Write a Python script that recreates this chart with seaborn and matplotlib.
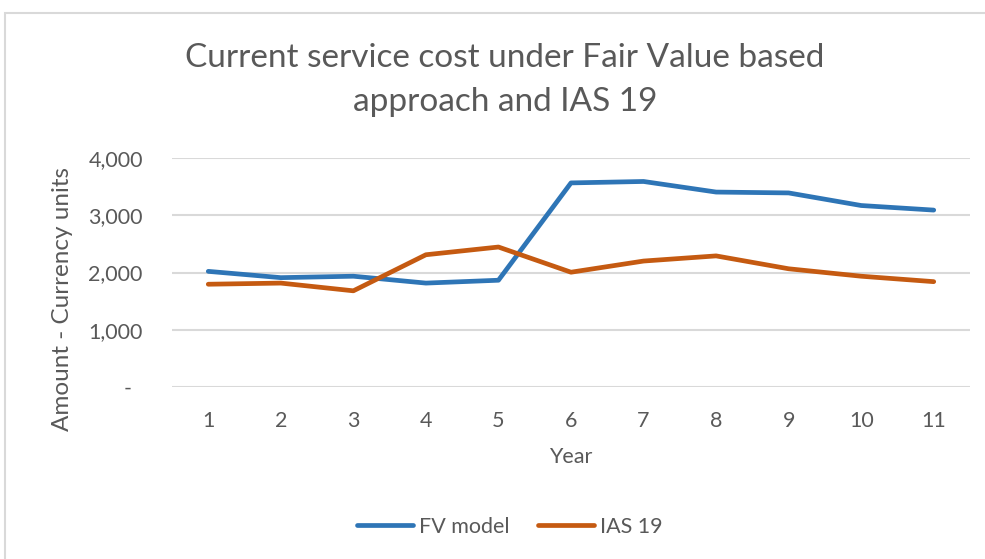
import matplotlib
matplotlib.use("Agg")
import matplotlib.pyplot as plt
import matplotlib.patches as mpatches
from matplotlib.ticker import FuncFormatter
import seaborn as sns
import pandas as pd

years = [1, 2, 3, 4, 5, 6, 7, 8, 9, 10, 11]
fv_model = [2020, 1910, 1935, 1815, 1865, 3565, 3590, 3405, 3390, 3170, 3090]
ias_19 = [1795, 1815, 1680, 2310, 2445, 2005, 2200, 2290, 2065, 1935, 1840]
series_names = ["FV model", "IAS 19"]
colors = ["#2E75B6", "#C55A11"]

df = pd.DataFrame({
    "Year": years * 2,
    "Amount": fv_model + ias_19,
    "Series": [series_names[0]] * len(years) + [series_names[1]] * len(years),
})

sns.set_theme(style="white")
plt.rcParams["font.family"] = ["Lato", "DejaVu Sans"]
grey = "#595959"

fig = plt.figure(figsize=(9.85, 5.59), dpi=100)
fig.patch.set_facecolor("white")
fig.patches.append(mpatches.Rectangle((5 / 985, -0.05), 1.0, 1 - 13 / 559 + 0.05,
                                      transform=fig.transFigure, fill=False,
                                      edgecolor="#D9D9D9", linewidth=1.5))

ax = fig.add_axes([172 / 985, 1 - 387 / 559, 798 / 985, 229 / 559])
sns.lineplot(data=df, x="Year", y="Amount", hue="Series", palette=colors,
             linewidth=3.4, ax=ax, legend=False, solid_capstyle="round")

ax.set_xlim(0.5, 11.5)
ax.set_ylim(0, 4000)
ax.set_xticks(years)
ax.set_yticks([0, 1000, 2000, 3000, 4000])
ax.yaxis.set_major_formatter(FuncFormatter(lambda v, p: "-  " if v == 0 else f"{int(v):,}"))
ax.grid(axis="y", color="#D9D9D9", linewidth=1.5)
ax.set_axisbelow(True)
for s in ax.spines.values():
    s.set_visible(False)
ax.tick_params(axis="both", length=0, labelsize=15.5, labelcolor=grey)
ax.tick_params(axis="y", pad=21)
ax.tick_params(axis="x", pad=17)

ax.set_xlabel("Year", fontsize=15.5, color=grey)
ax.xaxis.set_label_coords(0.5, -0.305)
ax.xaxis.label.set_va("center")
ax.set_ylabel("Amount - Currency units", fontsize=17.5, color=grey)
ax.yaxis.set_label_coords(-0.137, 0.385)
ax.yaxis.label.set_va("center")

fig.text(505 / 985, 1 - 80 / 559, "Current service cost under Fair Value based\napproach and IAS 19",
         ha="center", va="center", fontsize=24, color=grey, linespacing=1.55)

handles = [plt.Line2D([], [], color=c, linewidth=3.4, solid_capstyle="round") for c in colors]
fig.legend(handles, series_names, loc="center", bbox_to_anchor=(510 / 985, 1 - 527 / 559),
           ncol=2, frameon=False, fontsize=15.5, labelcolor=grey, handlelength=2.6,
           handletextpad=0.3, columnspacing=1.3)

fig.savefig("out.png", dpi=100, facecolor="white")
